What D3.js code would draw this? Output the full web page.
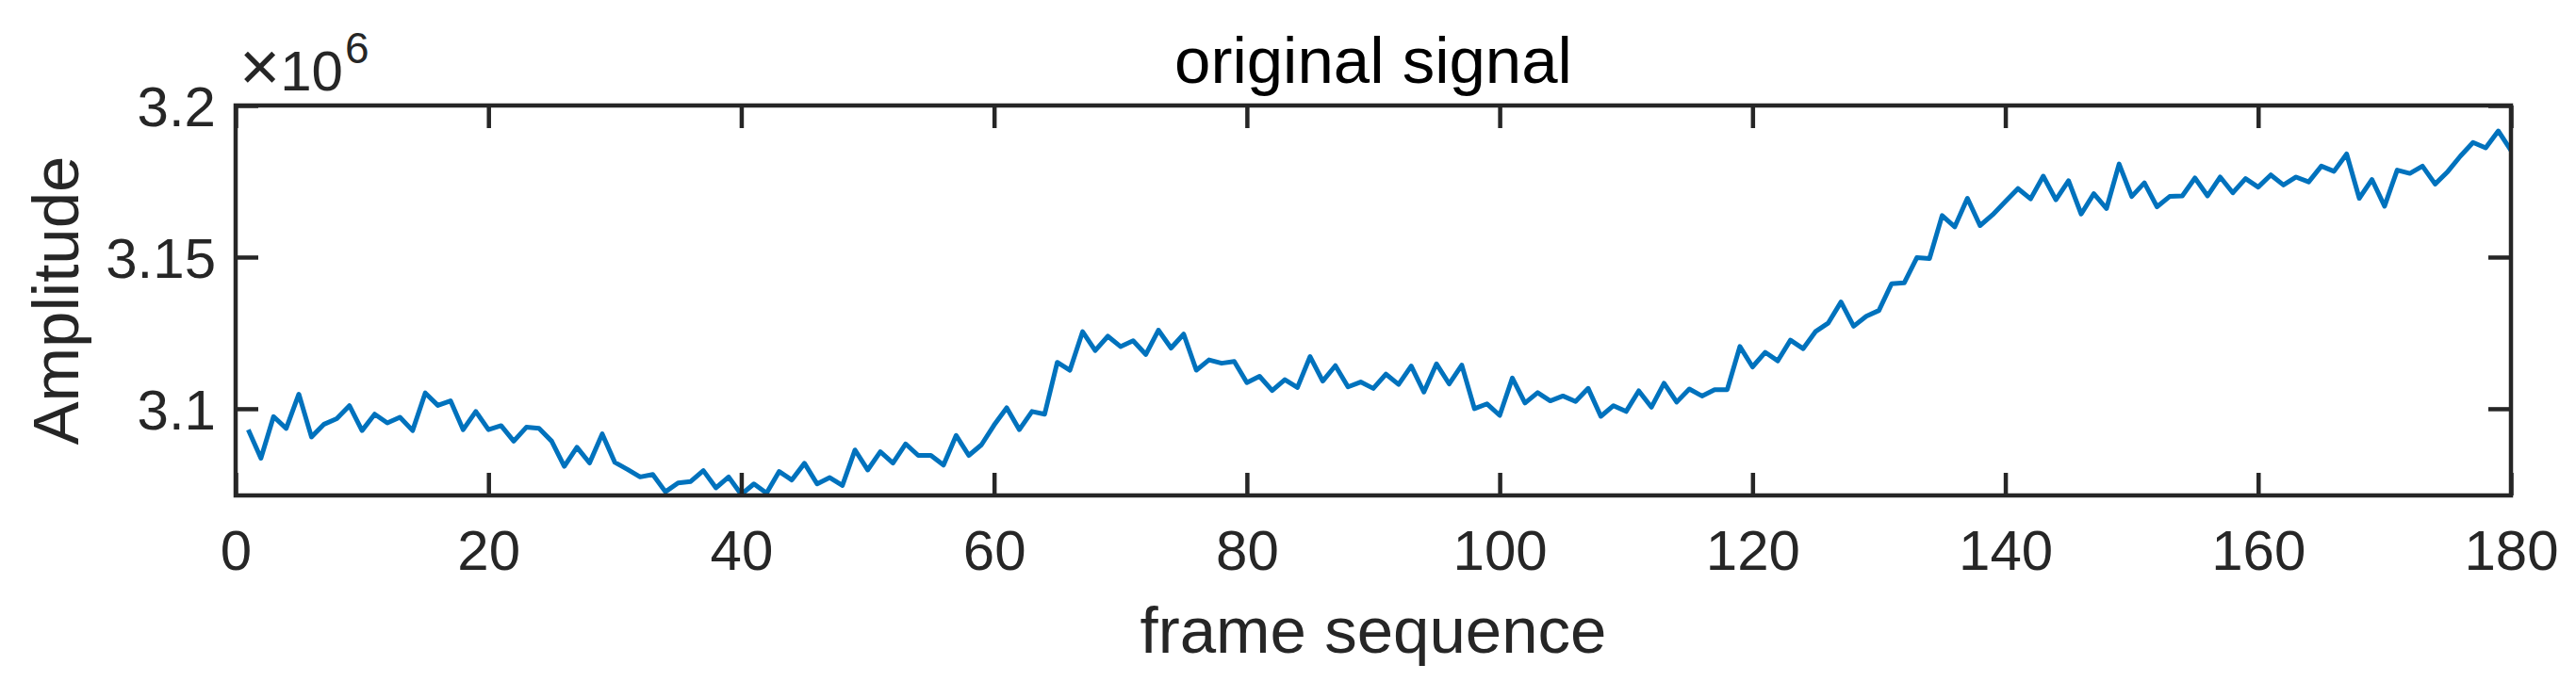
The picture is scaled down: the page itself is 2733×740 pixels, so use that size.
<!DOCTYPE html>
<html>
<head>
<meta charset="utf-8">
<script src="https://cdn.jsdelivr.net/npm/d3@7"></script>
<style>
  body { margin: 0; background: #fff; }
  text { font-family: "Liberation Sans", Arial, sans-serif; }
</style>
</head>
<body>
<svg width="2733" height="740"></svg>
<script>
// frame index 1..180, amplitude in units of 1e6
var frames = d3.range(1, 181);
var amplitude = [
  3.0931, 3.0837, 3.0974, 3.0935, 3.1048, 3.0907, 3.0949, 3.0967, 3.1010, 3.0928,
  3.0982, 3.0953, 3.0972, 3.0928, 3.1052, 3.1011, 3.1026, 3.0931, 3.0991, 3.0931,
  3.0944, 3.0893, 3.0939, 3.0935, 3.0893, 3.0810, 3.0873, 3.0821, 3.0917, 3.0823,
  3.0800, 3.0775, 3.0783, 3.0726, 3.0755, 3.0760, 3.0796, 3.0739, 3.0775, 3.0717,
  3.0752, 3.0722, 3.0793, 3.0765, 3.0820, 3.0752, 3.0773, 3.0747, 3.0864, 3.0798,
  3.0858, 3.0821, 3.0884, 3.0846, 3.0846, 3.0814, 3.0912, 3.0846, 3.0881, 3.0946,
  3.1003, 3.0931, 3.0991, 3.0982, 3.1153, 3.1127, 3.1254, 3.1192, 3.1239, 3.1205,
  3.1224, 3.1179, 3.1259, 3.1200, 3.1246, 3.1127, 3.1161, 3.1150, 3.1156, 3.1086,
  3.1107, 3.1060, 3.1096, 3.1070, 3.1172, 3.1091, 3.1142, 3.1072, 3.1088, 3.1067,
  3.1114, 3.1080, 3.1141, 3.1055, 3.1148, 3.1082, 3.1144, 3.1000, 3.1016, 3.0978,
  3.1101, 3.1019, 3.1053, 3.1026, 3.1042, 3.1024, 3.1067, 3.0975, 3.1010, 3.0991,
  3.1059, 3.1005, 3.1084, 3.1022, 3.1065, 3.1042, 3.1063, 3.1063, 3.1205, 3.1138,
  3.1186, 3.1158, 3.1226, 3.1198, 3.1255, 3.1283, 3.1352, 3.1272, 3.1305, 3.1324,
  3.1412, 3.1415, 3.1498, 3.1495, 3.1637, 3.1600, 3.1694, 3.1604, 3.1640, 3.1683,
  3.1726, 3.1692, 3.1767, 3.1689, 3.1752, 3.1642, 3.1709, 3.1660, 3.1807, 3.1700,
  3.1745, 3.1666, 3.1700, 3.1702, 3.1761, 3.1702, 3.1764, 3.1712, 3.1759, 3.1731,
  3.1771, 3.1738, 3.1764, 3.1748, 3.1800, 3.1783, 3.1840, 3.1694, 3.1756, 3.1668,
  3.1787, 3.1776, 3.1800, 3.1741, 3.1782, 3.1833, 3.1878, 3.1860, 3.1916, 3.1852
];
var xTicks = [0, 20, 40, 60, 80, 100, 120, 140, 160, 180];
var yTicks = [3.1, 3.15, 3.2];
var yTickLabels = ["3.1", "3.15", "3.2"];

// plot box (note: "top" is reserved on window, so prefixed names)
var pLeft = 250, pRight = 2664, pTop = 112, pBottom = 526;
var ink = "#262626";

var svg = d3.select('svg');

var x = d3.scaleLinear().domain([0, 180]).range([pLeft, pRight]);
var y = d3.scaleLinear().domain([3.0714, 3.2]).range([pBottom, pTop]);

svg.append('clipPath').attr('id', 'plotclip')
  .append('rect')
  .attr('x', pLeft).attr('y', pTop)
  .attr('width', pRight - pLeft).attr('height', pBottom - pTop);

// data line
var line = d3.line()
  .x(function(d, i) { return x(frames[i]); })
  .y(function(d) { return y(d); });

svg.append('path')
  .datum(amplitude)
  .attr('clip-path', 'url(#plotclip)')
  .attr('fill', 'none')
  .attr('stroke', '#0072BD')
  .attr('stroke-width', 5)
  .attr('stroke-linejoin', 'round')
  .attr('d', line);

// axes: bottom/left with labels, top/right ticks only
var tickLen = 24;
var xb = svg.append('g').attr('transform', 'translate(0,' + pBottom + ')')
  .call(d3.axisBottom(x).tickValues(xTicks).tickSizeInner(-tickLen).tickSizeOuter(0).tickFormat(d3.format('d')));
var xt = svg.append('g').attr('transform', 'translate(0,' + pTop + ')')
  .call(d3.axisTop(x).tickValues(xTicks).tickSizeInner(-tickLen).tickSizeOuter(0).tickFormat(''));
var yl = svg.append('g').attr('transform', 'translate(' + pLeft + ',0)')
  .call(d3.axisLeft(y).tickValues(yTicks).tickSizeInner(-tickLen).tickSizeOuter(0)
    .tickFormat(function(d, i) { return yTickLabels[i]; }));
var yr = svg.append('g').attr('transform', 'translate(' + pRight + ',0)')
  .call(d3.axisRight(y).tickValues(yTicks).tickSizeInner(-tickLen).tickSizeOuter(0).tickFormat(''));

[xb, xt, yl, yr].forEach(function(g) {
  g.select('.domain').remove();
  g.selectAll('.tick line').attr('stroke', ink).attr('stroke-width', 4.5);
  g.selectAll('.tick text').attr('fill', ink).attr('font-size', 60);
});
// place labels by hand-measured offsets from the axis
xb.selectAll('.tick text').attr('dy', null).attr('y', 79);
yl.selectAll('.tick text').attr('x', -21).attr('dy', '0.36em');

// box
svg.append('rect')
  .attr('x', pLeft).attr('y', pTop)
  .attr('width', pRight - pLeft).attr('height', pBottom - pTop)
  .attr('fill', 'none')
  .attr('stroke', ink)
  .attr('stroke-width', 4.5);

// exponent label
var ex = svg.append('text')
  .attr('x', 254).attr('y', 96)
  .attr('fill', ink)
  .attr('font-size', 60);
ex.append('tspan').attr('font-size', 74).text('\u00d7');
ex.append('tspan').text('10');
ex.append('tspan').attr('font-size', 46).attr('dy', -29).attr('dx', 2).text('6');

// title
svg.append('text')
  .attr('x', (pLeft + pRight) / 2).attr('y', 88)
  .attr('text-anchor', 'middle')
  .attr('fill', '#000')
  .attr('font-size', 69)
  .text('original signal');

// axis labels
svg.append('text')
  .attr('x', (pLeft + pRight) / 2).attr('y', 693)
  .attr('text-anchor', 'middle')
  .attr('fill', ink)
  .attr('font-size', 69)
  .text('frame sequence');

svg.append('text')
  .attr('transform', 'translate(83,' + (pTop + pBottom) / 2 + ') rotate(-90)')
  .attr('text-anchor', 'middle')
  .attr('fill', ink)
  .attr('font-size', 69)
  .text('Amplitude');
</script>
</body>
</html>
